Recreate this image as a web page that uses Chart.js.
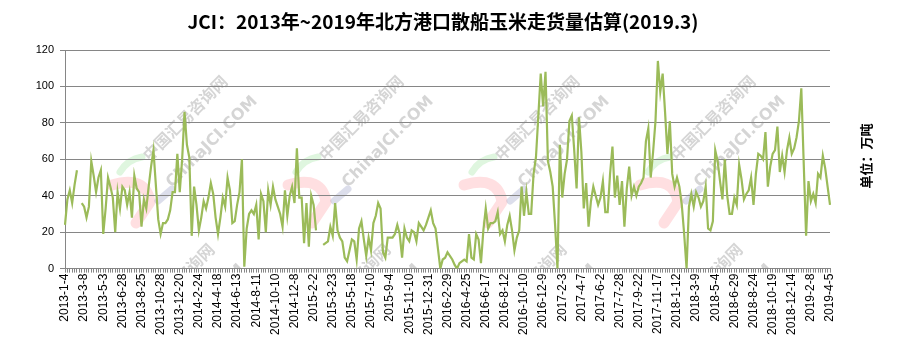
<!DOCTYPE html>
<html lang="zh">
<head>
<meta charset="UTF-8">
<title>北方港口散船玉米走货量估算</title>
<style>
  html, body { margin: 0; padding: 0; background: #fff; }
  .wrap { width: 903px; height: 341px; }
</style>
</head>
<body>
<div class="wrap"><canvas id="chart"></canvas></div>

<script src="https://cdn.jsdelivr.net/npm/chart.js@4.4.1/dist/chart.umd.min.js"></script>
<script>
    // 标题、单位、水印
    const titleText = 'JCI：2013年~2019年北方港口散船玉米走货量估算(2019.3)';
    const unitText = '单位：万吨';
    const markText = ['中国汇易咨询网', 'ChinaJCI.COM'];

    // x轴每8周显示一个日期
    const labelStep = 8;
    const tickLabels = [
        '2013-1-4', '2013-3-8', '2013-5-3', '2013-6-28', '2013-8-25', '2013-10-28', '2013-12-20',
        '2014-2-24', '2014-4-18', '2014-6-13', '2014-8-11', '2014-10-10', '2014-12-8',
        '2015-2-2', '2015-3-23', '2015-5-18', '2015-7-10', '2015-9-4', '2015-11-10', '2015-12-31',
        '2016-2-29', '2016-4-25', '2016-6-17', '2016-8-12', '2016-10-10', '2016-12-9',
        '2017-2-3', '2017-4-7', '2017-6-2', '2017-7-28', '2017-9-22', '2017-11-17',
        '2018-1-12', '2018-3-9', '2018-5-4', '2018-6-29', '2018-8-24', '2018-10-19', '2018-12-14',
        '2019-2-8', '2019-4-5'
    ];

    // 每周走货量 (万吨), null = 春节停报
    const volume = [
        24, 38, 43, 36, 46, 54, null, 36, 34, 28,
        34, 59, 51, 42, 50, 54, 19, 33, 50, 45,
        39, 20, 42, 33, 45, 43, 35, 42, 28, 51,
        44, 42, 23, 38, 33, 45, 56, 65, 46, 27,
        19, 25, 25, 27, 32, 42, 42, 63, 42, 60,
        86, 68, 61, 18, 45, 35, 21, 28, 37, 33,
        39, 47, 41, 28, 19, 28, 39, 34, 50, 43,
        25, 26, 35, 42, 60, 1, 22, 30, 32, 30,
        35, 16, 41, 37, 20, 43, 35, 45, 38, 34,
        30, 23, 43, 29, 40, 45, 36, 66, 39, 39,
        14, 36, 12, 40, 35, 21, null, null, 13, 14,
        15, 23, 18, 36, 21, 17, 15, 6, 4, 10,
        16, 15, 5, 22, 26, 16, 7, 17, 10, 25,
        29, 36, 33, 9, 6, 17, 17, 17, 19, 24,
        19, 6, 22, 17, 15, 21, 20, 15, 25, 23,
        21, 24, 28, 32, 25, 22, 11, 0, 5, 6,
        9, 7, 5, 2, 0, 3, 4, 5, 4, 19,
        6, 5, 19, 16, 3, 21, 33, 22, 25, 25,
        26, 31, 19, 21, 15, 24, 29, 21, 10, 17,
        21, 45, 29, 42, 30, 30, 52, 61, 84, 107,
        89, 108, 59, 53, 45, 24, 0, 68, 39, 52,
        60, 81, 84, 65, 44, 83, 64, 33, 47, 23,
        37, 45, 40, 35, 39, 48, 31, 31, 52, 67,
        39, 51, 35, 48, 23, 44, 56, 40, 45, 40,
        45, 47, 50, 70, 77, 50, 64, 81, 114, 97,
        107, 86, 63, 81, 52, 45, 50, 45, 35, 19,
        0, 34, 41, 34, 42, 39, 34, 37, 45, 22,
        21, 26, 65, 59, 48, 38, 60, 40, 30, 30,
        39, 35, 57, 49, 38, 41, 43, 50, 35, 52,
        63, 62, 60, 75, 45, 56, 63, 65, 78, 53,
        62, 53, 65, 72, 63, 66, 72, 81, 99, 58,
        18, 48, 37, 41, 36, 52, 50, 62, 55, 45,
        35
    ];

    const labels = volume.map((v, i) => i % labelStep === 0 ? tickLabels[i / labelStep] : '');

    // 背景水印 (画在网格线下面)
    const watermarkPlugin = {
        id: 'watermark',
        beforeDraw(chart) {
            const ctx = chart.ctx;
            const a = chart.chartArea;
            ctx.save();
            ctx.beginPath();
            ctx.rect(a.left, a.top, a.right - a.left, a.bottom - a.top);
            ctx.clip();
            ctx.lineCap = 'round';
            ctx.lineJoin = 'round';
            for (let row = 0; row < 2; row++) {
                for (let k = 0; k < 4; k++) {
                    const x0 = 100 + k * 176 - row * 13;
                    const y0 = 185 + row * 168;
                    const px = x0 + 8;
                    // 标志: 绿叶, 红色弯钩, 灰蓝条
                    ctx.strokeStyle = 'rgba(110, 215, 110, 0.22)';
                    ctx.lineWidth = 7;
                    ctx.beginPath();
                    ctx.moveTo(px + 12, y0 - 13);
                    ctx.quadraticCurveTo(px + 20, y0 - 26, px + 34, y0 - 28);
                    ctx.stroke();
                    ctx.strokeStyle = 'rgba(255, 110, 120, 0.22)';
                    ctx.lineWidth = 11;
                    ctx.beginPath();
                    ctx.moveTo(px + 4, y0);
                    ctx.quadraticCurveTo(px + 38, y0 - 10, px + 42, y0 + 17);
                    ctx.lineTo(px + 28, y0 + 38);
                    ctx.stroke();
                    ctx.strokeStyle = 'rgba(95, 105, 165, 0.22)';
                    ctx.lineWidth = 7;
                    ctx.beginPath();
                    ctx.moveTo(px + 50, y0 + 16);
                    ctx.lineTo(px + 64, y0 + 4);
                    ctx.stroke();
                    // 文字
                    ctx.fillStyle = 'rgba(150, 150, 150, 0.4)';
                    ctx.textAlign = 'center';
                    ctx.textBaseline = 'middle';
                    ctx.save();
                    ctx.translate(x0 + 85, y0 - 67);
                    ctx.rotate(-Math.PI / 4);
                    ctx.font = 'bold 16px "Noto Sans CJK SC"';
                    ctx.fillText(markText[0], 0, 0);
                    ctx.restore();
                    ctx.save();
                    ctx.translate(x0 + 112, y0 - 43);
                    ctx.rotate(-Math.PI / 4);
                    ctx.font = 'bold 16px "DejaVu Sans"';
                    ctx.fillText(markText[1], 0, 0);
                    ctx.restore();
                }
            }
            ctx.restore();
        }
    };

    // 标题和右侧竖排单位
    const textPlugin = {
        id: 'titleUnit',
        afterDraw(chart) {
            const ctx = chart.ctx;
            ctx.save();
            ctx.fillStyle = '#000';
            ctx.textAlign = 'center';
            ctx.textBaseline = 'middle';
            ctx.font = 'bold 19px "Noto Sans CJK SC"';
            ctx.fillText(titleText, 443, 22);
            ctx.translate(866, 156);
            ctx.rotate(-Math.PI / 2);
            ctx.font = 'bold 13px "Noto Sans CJK SC"';
            ctx.fillText(unitText, 0, 0);
            ctx.restore();
        }
    };

    new Chart(document.getElementById('chart'), {
        type: 'line',
        data: {
            labels: labels,
            datasets: [{
                data: volume,
                borderColor: '#9bbb59',
                borderWidth: 2.2,
                pointRadius: 0,
                tension: 0,
                spanGaps: false
            }]
        },
        options: {
            responsive: true,
            maintainAspectRatio: false,
            animation: false,
            layout: { padding: { left: 0, right: 73, top: 50, bottom: 5 } },
            plugins: {
                legend: { display: false },
                tooltip: { enabled: false },
                title: { display: false }
            },
            scales: {
                x: {
                    grid: { drawOnChartArea: false, drawTicks: true, tickLength: 4, color: '#868686' },
                    border: { color: '#868686' },
                    ticks: {
                        autoSkip: false,
                        maxRotation: 90,
                        minRotation: 90,
                        padding: 1,
                        color: '#000',
                        font: { family: '"Liberation Sans"', size: 12 }
                    }
                },
                y: {
                    min: 0,
                    max: 120,
                    afterFit: (scale) => { scale.width = 65; },
                    grid: { color: '#868686', tickLength: 5 },
                    border: { color: '#868686' },
                    ticks: {
                        stepSize: 20,
                        padding: 6,
                        color: '#000',
                        font: { family: '"Liberation Sans"', size: 11 }
                    }
                }
            }
        },
        plugins: [watermarkPlugin, textPlugin]
    });
</script>
</body>
</html>
